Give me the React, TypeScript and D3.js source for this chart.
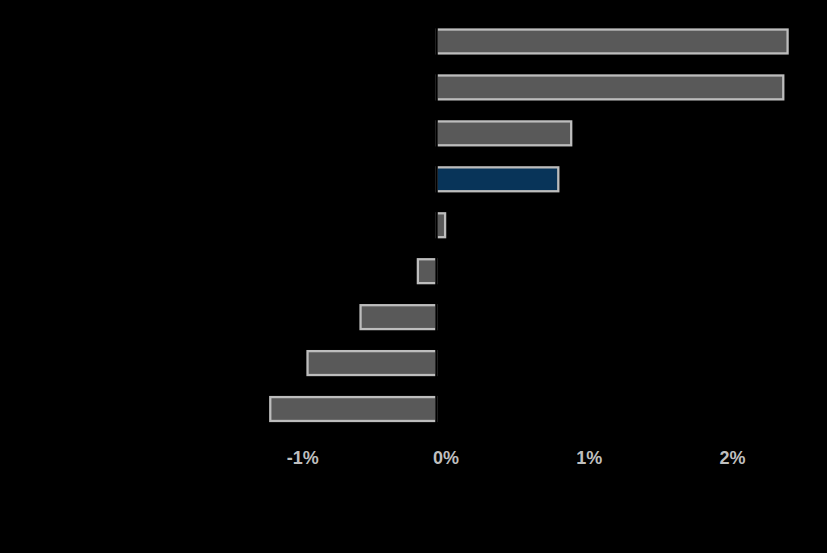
import React from "react";
import * as d3 from "d3";

const categories = ["A", "B", "C", "D", "E", "F", "G", "H", "I"];
const values = [2.45, 2.42, 0.94, 0.85, 0.06, -0.13, -0.53, -0.90, -1.16];
const highlight = [false, false, false, true, false, false, false, false, false];
const ticks = [-1, 0, 1, 2];
const tickLabels = ["-1%", "0%", "1%", "2%"];

const W = 827;
const H = 553;

export default function App() {
  const x = d3.scaleLinear().domain([0, 1]).range([436.5, 579.8]);
  const y = d3.scaleBand<string>().domain(categories).range([18.5, 432]).paddingInner(0.48).paddingOuter(0.24);
  const x0 = x(0);
  return (
    <svg width={W} height={H} style={{ position: "fixed", left: 0, top: 0, background: "#000" }}>
      <rect x={0} y={0} width={W} height={H} fill="#000" />
      {categories.map((c, i) => {
        const v = values[i];
        const xa = Math.min(x(v), x0);
        const xb = Math.max(x(v), x0);
        return (
          <rect
            key={c}
            x={xa}
            y={y(c)}
            width={xb - xa}
            height={y.bandwidth()}
            fill={highlight[i] ? "#083459" : "#595959"}
            stroke="#bdbdbd"
            strokeWidth={2.3}
          />
        );
      })}
      <line x1={x0} x2={x0} y1={18} y2={433} stroke="#000" strokeWidth={2.5} />
      {ticks.map((t, i) => (
        <text
          key={t}
          x={x(t) + 9.5}
          y={464}
          textAnchor="middle"
          fontFamily="Liberation Sans, Arial, sans-serif"
          fontWeight="bold"
          fontSize={18}
          fill="#bfbfbf"
        >
          {tickLabels[i]}
        </text>
      ))}
    </svg>
  );
}
